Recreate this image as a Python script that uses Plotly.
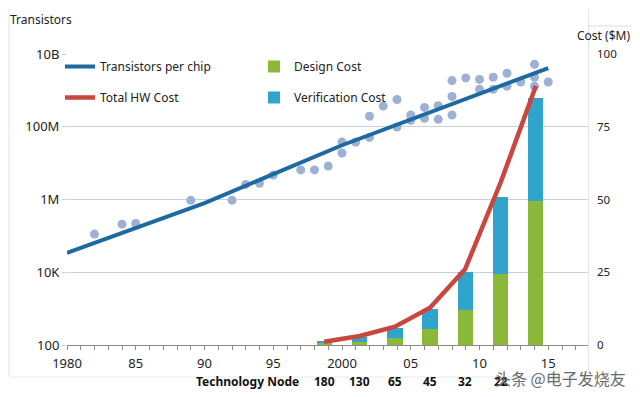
import plotly.graph_objects as go

# ---------------- data ----------------
dot_years = [1982, 1984, 1985, 1989, 1992, 1993, 1994, 1995, 1997, 1998, 1999,
             2000, 2000, 2001, 2002, 2002, 2003, 2004, 2004, 2005, 2005,
             2006, 2006, 2007, 2007, 2008, 2008, 2008, 2009, 2010, 2010,
             2011, 2011, 2012, 2012, 2013, 2014, 2014, 2014, 2015]
dot_transistors = [1.12e5, 2.1e5, 2.2e5, 9.5e5, 9.5e5, 2.6e6, 2.8e6, 4.7e6, 6.5e6, 6.5e6, 8.3e6,
                   1.9e7, 3.8e7, 3.8e7, 5.1e7, 1.95e8, 3.7e8, 5.6e8, 9.8e7, 2.1e8, 1.5e8,
                   3.4e8, 1.7e8, 3.8e8, 1.6e8, 1.86e9, 6.8e8, 2.1e8, 2.2e9, 2.0e9, 1.07e9,
                   2.3e9, 1.07e9, 2.95e9, 1.3e9, 1.7e9, 5.2e9, 2.3e9, 1.3e9, 1.7e9]

trend_years = [1980, 1990, 2000, 2010, 2015]
trend_transistors = [3.4e4, 8.0e5, 3.1e7, 8.1e8, 4.1e9]

node_years = [1998.7, 2001.3, 2003.85, 2006.4, 2008.95, 2011.55, 2014.1]
node_labels = ["180", "130", "65", "45", "32", "22", ""]
design_cost = [0.6, 1.2, 2.4, 5.5, 12.0, 24.4, 49.5]
verification_cost = [0.8, 1.7, 3.4, 6.9, 13.1, 26.5, 35.5]
total_hw_cost = [1.1, 3.1, 6.3, 12.8, 26.0, 56.0, 89.0]

x_tick_years = list(range(1980, 2018))
x_tick_text = {1980: "1980", 1985: "85", 1990: "90", 1995: "95",
               2000: "2000", 2005: "05", 2010: "10", 2015: "15"}
y_tick_vals = [1e2, 1e4, 1e6, 1e8, 1e10]
y_tick_text = ["100", "10K", "1M", "100M", "10B"]
cost_ticks = [0, 25, 50, 75, 100]

# ---------------- figure ----------------
FONT = "Noto Sans"
fig = go.Figure()

fig.add_trace(go.Scatter(
    x=dot_years, y=dot_transistors, mode="markers",
    marker=dict(size=9, color="#9db1d5"), showlegend=False, hoverinfo="skip"))

fig.add_trace(go.Scatter(
    x=trend_years, y=trend_transistors, mode="lines",
    line=dict(color="#1c6aa0", width=4), name="Transistors per chip",
    legend="legend", legendgroup="a"))

fig.add_trace(go.Bar(
    x=node_years, y=design_cost, yaxis="y2", width=1.1,
    marker=dict(color="#8cb83a", line=dict(width=0)),
    name="Design Cost", legend="legend2", legendgroup="c"))
fig.add_trace(go.Bar(
    x=node_years, y=verification_cost, yaxis="y2", width=1.1,
    marker=dict(color="#31a4cb", line=dict(width=0)),
    name="Verification Cost", legend="legend2", legendgroup="d"))

fig.add_trace(go.Scatter(
    x=node_years, y=total_hw_cost, yaxis="y2", mode="lines",
    line=dict(color="#c9473f", width=4.5), name="Total HW Cost",
    legend="legend", legendgroup="b"))

# page body has an 8px margin; compensate so the chart lands where the reference has it
OFF = 8
L, R, T, B = 67, 52, 54, 52          # plot-area edges in reference pixels
W, H = 640, 397
pw, ph = W - L - R, H - T - B

def px(xp):
    return (xp - L) / pw

def py(yp):
    return (H - B - yp) / ph

annotations = []
for yr, lab in zip(node_years, node_labels):
    if lab:
        annotations.append(dict(x=yr, xref="x", y=py(381), yref="paper", text="<b>" + lab + "</b>",
                                showarrow=False, font=dict(family=FONT, size=12, color="#111"),
                                xanchor="center", yanchor="middle"))
annotations += [
    dict(x=px(247), y=py(381), xref="paper", yref="paper", text="<b>Technology Node</b>",
         showarrow=False, font=dict(family=FONT, size=12, color="#111"),
         xanchor="center", yanchor="middle"),
    dict(x=px(8), y=py(20), xref="paper", yref="paper", text="Transistors",
         showarrow=False, font=dict(family=FONT, size=12, color="#222"),
         xanchor="left", yanchor="middle"),
    dict(x=px(632), y=py(35), xref="paper", yref="paper", text="Cost ($M)",
         showarrow=False, font=dict(family=FONT, size=12, color="#222"),
         xanchor="right", yanchor="middle"),
    dict(x=px(628), y=py(378), xref="paper", yref="paper", text="头条 @电子发烧友",
         showarrow=False, font=dict(family="Noto Sans CJK SC", size=16, color="#6a6a6a"),
         xanchor="right", yanchor="middle"),
]

shapes = [
    dict(type="line", xref="paper", yref="paper", x0=px(9), x1=px(9), y0=py(376), y1=py(9),
         line=dict(color="#e2e2e2", width=1)),
    dict(type="line", xref="paper", yref="paper", x0=px(9), x1=px(588), y0=py(377), y1=py(377),
         line=dict(color="#e8e8e8", width=1)),
    dict(type="line", xref="paper", yref="paper", x0=px(588.5), x1=px(588.5), y0=py(370), y1=py(9),
         line=dict(color="#e4e4e4", width=1)),
    dict(type="line", xref="paper", yref="paper", x0=px(588), x1=px(640), y0=py(26), y1=py(26),
         line=dict(color="#dcdcdc", width=1)),
]

fig.update_layout(
    width=W - OFF, height=H - OFF,
    margin=dict(l=L - OFF, r=R, t=T - OFF, b=B, autoexpand=False),
    paper_bgcolor="white", plot_bgcolor="white",
    font=dict(family=FONT, size=12, color="#222"),
    barmode="stack", bargap=0,
    xaxis=dict(range=[1980, 1980 + pw / 13.75], tickvals=x_tick_years,
               ticktext=[x_tick_text.get(y, "") for y in x_tick_years],
               ticks="outside", ticklen=4, tickcolor="#8a8a8a", tickwidth=1,
               showline=True, linecolor="#8a8a8a", linewidth=1,
               showgrid=False, zeroline=False, ticklabelstandoff=2,
               tickfont=dict(family=FONT, size=13, color="#222")),
    yaxis=dict(type="log", range=[2, 10], tickvals=y_tick_vals, ticktext=y_tick_text,
               showgrid=True, gridcolor="#c5d0da", gridwidth=1,
               ticks="outside", ticklen=4, tickcolor="#c5d0da",
               showline=False, zeroline=False,
               tickfont=dict(family=FONT, size=13, color="#222")),
    yaxis2=dict(range=[0, 100], overlaying="y", side="right", tickvals=cost_ticks,
                showgrid=False, zeroline=False, showline=False, ticks="",
                ticklabelstandoff=8,
                tickfont=dict(family=FONT, size=11.5, color="#222")),
    legend=dict(x=px(60), y=py(52), xanchor="left", yanchor="top",
                bgcolor="rgba(0,0,0,0)", tracegroupgap=12,
                font=dict(family=FONT, size=12, color="#222")),
    legend2=dict(x=px(254), y=py(52), xanchor="left", yanchor="top",
                 bgcolor="rgba(0,0,0,0)", tracegroupgap=12,
                 font=dict(family=FONT, size=12, color="#222")),
    annotations=annotations,
    shapes=shapes,
    showlegend=True,
)

fig.write_html("out.html")
